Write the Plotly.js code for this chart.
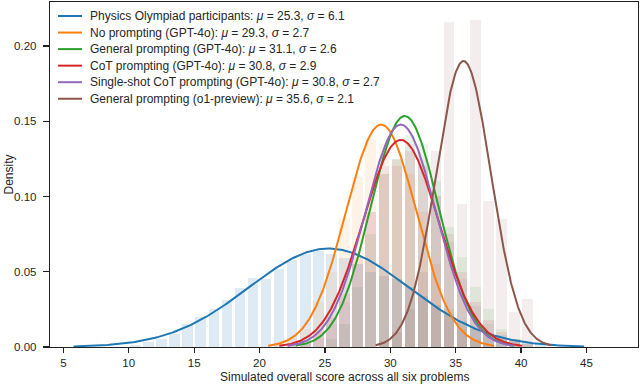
<!DOCTYPE html>
<html><head><meta charset="utf-8">
<script src="https://cdn.plot.ly/plotly-3.0.1.min.js"></script>
<style>body{margin:0;background:#fff;}</style>
</head><body>
<div id="chart" style="width:640px;height:384px;"></div>
<script>
// ---- data ----
const seriesNames = [
  "Physics Olympiad participants",
  "No prompting (GPT-4o)",
  "General prompting (GPT-4o)",
  "CoT prompting (GPT-4o)",
  "Single-shot CoT prompting (GPT-4o)",
  "General prompting (o1-preview)"
];
const seriesColors = ["#1f77b4", "#ff7f0e", "#2ca02c", "#d62728", "#9467bd", "#8c564b"];
const mu = [25.3, 29.3, 31.1, 30.8, 30.8, 35.6];
const sigma = [6.1, 2.7, 2.6, 2.9, 2.7, 2.1];

// histogram bins: [n, n+1) for n = 10 .. 41
const binLeft = [10,11,12,13,14,15,16,17,18,19,20,21,22,23,24,25,26,27,28,29,30,31,32,33,34,35,36,37,38,39,40,41];
const histParticipants = [0.0015,0.003,0.0056,0.0085,0.0156,0.020,0.025,0.031,0.039,0.046,0.045,0.052,0.058,0.062,0.064,0.062,0.059,0.055,0.050,0.047,0.045,0.040,0.034,0.028,0.022,0.017,0.012,0.009,0.006,0.004,0.003,0.002];
const histNoPrompt     = [0,0,0,0,0,0,0,0,0,0,0,0.003,0.006,0.012,0.030,0.050,0.086,0.113,0.138,0.135,0.124,0.115,0.090,0.055,0.025,0.012,0.005,0.002,0,0,0,0];
const histGeneral      = [0,0,0,0,0,0,0,0,0,0,0,0,0,0,0,0.005,0.015,0.040,0.075,0.115,0.125,0.141,0.135,0.110,0.080,0.060,0.040,0.025,0.012,0.005,0.002,0];
const histCoT          = [0,0,0,0,0,0,0,0,0,0,0,0,0.002,0.004,0.010,0.020,0.035,0.060,0.090,0.115,0.120,0.130,0.120,0.100,0.075,0.050,0.030,0.018,0.010,0.005,0.002,0];
const histSingleShot   = [0,0,0,0,0,0,0,0,0,0,0,0,0,0.002,0.006,0.015,0.030,0.055,0.090,0.120,0.125,0.135,0.125,0.100,0.070,0.045,0.027,0.015,0.008,0.003,0,0];
const histO1           = [0,0,0,0,0,0,0,0,0,0,0,0,0,0,0,0,0,0,0,0.004,0.010,0.025,0.050,0.130,0.216,0.095,0.217,0.097,0.085,0.023,0.032,0];
const hists = [histParticipants, histNoPrompt, histGeneral, histCoT, histSingleShot, histO1];

const xTicks = [5,10,15,20,25,30,35,40,45];
const yTicks = [0,0.05,0.10,0.15,0.20];
const xTitle = "Simulated overall score across all six problems";
const yTitle = "Density";

// ---- helpers ----
function rgba(hex, a){
  const r=parseInt(hex.slice(1,3),16), g=parseInt(hex.slice(3,5),16), b=parseInt(hex.slice(5,7),16);
  return `rgba(${r},${g},${b},${a})`;
}
const binCenters = binLeft.map(v => v + 0.5);
const FONT = "Liberation Sans, Arial, sans-serif";

const traces = [];
hists.forEach((h, i) => {
  traces.push({
    type: "bar", x: binCenters, y: h, width: 0.8,
    marker: {color: rgba(seriesColors[i], i === 0 ? 0.15 : 0.1), line: {width: 0}},
    showlegend: false, hoverinfo: "skip"
  });
});
mu.forEach((m, i) => {
  const s = sigma[i], xs = [], ys = [];
  const lo = m - 3.2*s, hi = m + 3.2*s, n = 300;
  for (let k = 0; k <= n; k++) {
    const x = lo + (hi - lo) * k / n;
    xs.push(x);
    ys.push(Math.exp(-0.5*((x-m)/s)**2) / (s*Math.sqrt(2*Math.PI)));
  }
  traces.push({type: "scatter", mode: "lines", x: xs, y: ys,
    line: {color: seriesColors[i], width: 2}, showlegend: false, hoverinfo: "skip"});
});

// ---- custom legend (compact rows like the original) ----
const W = 640, H = 384, mL = 50, mR = 2, mT = 2, mB = 37;
const pw = W - mL - mR, ph = H - mT - mB;
const px = v => (v - mL) / pw;
const py = v => (H - mB - v) / ph;
const shapes = [], annotations = [];
seriesNames.forEach((name, i) => {
  const yc = 16 + 16.55 * i;
  shapes.push({type: "line", xref: "paper", yref: "paper",
    x0: px(58), x1: px(82), y0: py(yc), y1: py(yc),
    line: {color: seriesColors[i], width: 2}});
  annotations.push({xref: "paper", yref: "paper", x: px(88), y: py(yc),
    xanchor: "left", yanchor: "middle", showarrow: false,
    text: `${name}: <i>μ</i> = ${mu[i].toFixed(1)}, <i>σ</i> = ${sigma[i].toFixed(1)}`,
    font: {family: FONT, size: 12, color: "#262626"}});
});
// axis titles as annotations for precise placement
annotations.push({xref: "paper", yref: "paper", x: px(344), y: py(385), xanchor: "center", yanchor: "bottom",
  showarrow: false, text: xTitle, borderpad: 0, font: {family: FONT, size: 12, color: "#262626"}});
annotations.push({xref: "paper", yref: "paper", x: px(0), y: py(174.5), xanchor: "left", yanchor: "middle",
  showarrow: false, text: yTitle, textangle: -90, borderpad: 0, font: {family: FONT, size: 12, color: "#262626"}});

const axisCommon = {
  showline: true, mirror: true, linecolor: "#222", linewidth: 1.2,
  ticks: "outside", tickwidth: 1.2, tickcolor: "#222",
  showgrid: false, zeroline: false,
  tickfont: {family: FONT, size: 11.5, color: "#262626"}
};
const layout = {
  width: W, height: H,
  margin: {l: mL, r: mR, t: mT, b: mB},
  paper_bgcolor: "#fff", plot_bgcolor: "#fff",
  barmode: "overlay", bargap: 0,
  showlegend: false,
  xaxis: Object.assign({}, axisCommon, {
    range: [3.98, 48.94], tickmode: "array", tickvals: xTicks, ticktext: xTicks.map(String),
    ticklen: 5, ticklabelstandoff: 0
  }),
  yaxis: Object.assign({}, axisCommon, {
    range: [0, 0.2292], tickmode: "array", tickvals: yTicks, ticktext: yTicks.map(v => v.toFixed(2)),
    ticklen: 6, ticklabelstandoff: 4
  }),
  shapes: shapes, annotations: annotations
};
Plotly.newPlot("chart", traces, layout, {displayModeBar: false, staticPlot: true});
</script>
</body></html>
